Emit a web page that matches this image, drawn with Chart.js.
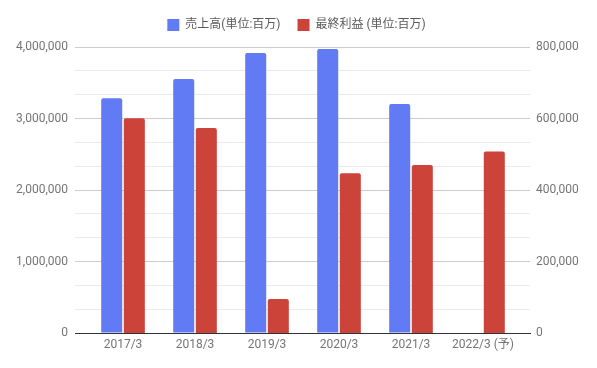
<!DOCTYPE html>
<html>
<head>
<meta charset="utf-8">
<script src="https://cdn.jsdelivr.net/npm/chart.js@4"></script>
<style>
html,body{margin:0;padding:0;background:#fff;}
#wrap{width:597px;height:368px;position:relative;}
</style>
</head>
<body>
<div id="wrap"><canvas id="c"></canvas></div>
<script>
const categories = ['2017/3', '2018/3', '2019/3', '2020/3', '2021/3', '2022/3 (予)'];
const salesLabel = '売上高(単位:百万)';
const profitLabel = '最終利益 (単位:百万)';
const sales = [3282000, 3552000, 3916000, 3972000, 3203000, null];
const profit = [600600, 573400, 95100, 446700, 470000, 508000];
const leftTicks = [0, 1000000, 2000000, 3000000, 4000000];
const rightTicks = [0, 200000, 400000, 600000, 800000];

Chart.defaults.font.family = 'Roboto, "Noto Sans CJK JP", sans-serif';
Chart.defaults.font.size = 12;
Chart.defaults.color = '#757575';

const toPoints = arr => arr.map((v, i) => ({x: i, y: v}));
const fmt = v => Math.round(v).toLocaleString('en-US');

// minor grid: 2 extra lines between each labelled tick
function withMinors(ticks) {
  const out = [];
  for (let i = 0; i < ticks.length; i++) {
    out.push({value: ticks[i], major: true});
    if (i < ticks.length - 1) {
      const step = (ticks[i + 1] - ticks[i]) / 3;
      out.push({value: ticks[i] + step, major: false});
      out.push({value: ticks[i] + 2 * step, major: false});
    }
  }
  return out;
}

const legendHeightPlugin = {
  id: 'legendHeight',
  beforeLayout(chart) {
    const lg = chart.legend;
    if (lg && !lg._wrapped) {
      const orig = lg.fit.bind(lg);
      lg.fit = function () { orig(); this.height = 45; };
      lg._wrapped = true;
    }
  }
};

new Chart(document.getElementById('c'), {
  type: 'bar',
  data: {
    datasets: [
      {label: salesLabel, data: toPoints(sales), backgroundColor: '#607bf3', yAxisID: 'y', borderRadius: 2},
      {label: profitLabel, data: toPoints(profit), backgroundColor: '#cc4339', yAxisID: 'y1', borderRadius: 2}
    ]
  },
  options: {
    responsive: true,
    maintainAspectRatio: false,
    animation: false,
    devicePixelRatio: 1,
    layout: {padding: {top: 2, right: 4, left: 0, bottom: 0}},
    categoryPercentage: 0.628,
    barPercentage: 0.93,
    plugins: {
      tooltip: {enabled: false},
      legend: {
        position: 'top',
        labels: {boxWidth: 12, boxHeight: 12, padding: 17, color: '#5a5a5a', font: {size: 12}}
      }
    },
    scales: {
      x: {
        type: 'linear',
        offset: false,
        min: -0.667,
        max: 5.653,
        afterBuildTicks: s => { s.ticks = categories.map((c, i) => ({value: i})); },
        afterFit: s => { s.height = 35; },
        grid: {display: false, drawTicks: false, offset: false},
        border: {display: true, color: '#333', width: 1},
        ticks: {padding: 5, autoSkip: false, maxRotation: 0, callback: v => categories[v] ?? ''}
      },
      y: {
        position: 'left',
        min: 0,
        max: 4000000,
        afterBuildTicks: s => { s.ticks = withMinors(leftTicks); },
        afterFit: s => { s.width = 75; },
        border: {display: false},
        grid: {
          drawTicks: false,
          color: c => (c.index === 0 ? '#333' : (c.tick && c.tick.major ? '#cccccc' : '#ebebeb'))
        },
        ticks: {
          padding: 7,
          autoSkip: false,
          callback: function (v, i, ticks) { return ticks[i].major ? fmt(v) : ''; }
        }
      },
      y1: {
        position: 'right',
        min: 0,
        max: 800000,
        afterBuildTicks: s => { s.ticks = rightTicks.map(v => ({value: v})); },
        afterFit: s => { s.width = 63; },
        border: {display: false},
        grid: {display: false, drawTicks: false},
        ticks: {padding: 6, autoSkip: false, callback: v => fmt(v)}
      }
    }
  },
  plugins: [legendHeightPlugin]
});
</script>
</body>
</html>
